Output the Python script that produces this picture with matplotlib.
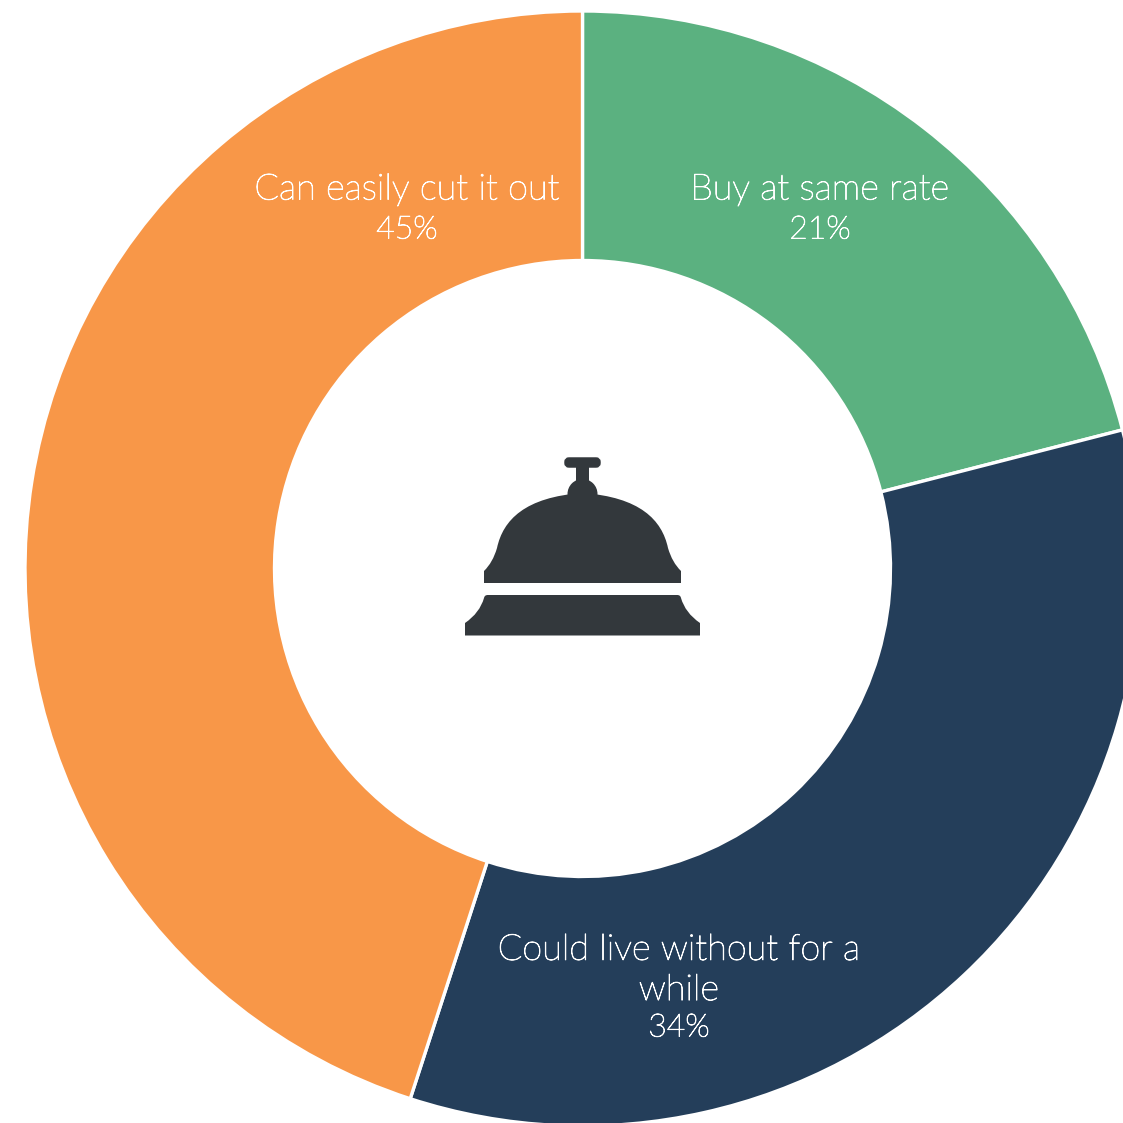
import matplotlib
matplotlib.use('Agg')
import matplotlib.pyplot as plt
import matplotlib.patheffects as pe
from matplotlib.patches import Wedge, PathPatch, Rectangle, Circle, FancyBboxPatch
from matplotlib.path import Path

plt.rcParams['font.family'] = ['Lato', 'DejaVu Sans']

labels = ['Buy at same rate', 'Could live without for a\nwhile', 'Can easily cut it out']
shares = [21, 34, 45]
colors = ['#5BB180', '#243E5A', '#F89748']
label_xy = [(820, 190), (679, 970.5), (407, 190)]
share_xy = [(820, 230), (679, 1028), (407, 230)]

SIZE = 1123
cx, cy = 582.5, 568.5
R_OUT, R_IN = 557.5, 308

fig = plt.figure(figsize=(SIZE / 100, SIZE / 100), dpi=100)
ax = fig.add_axes([0, 0, 1, 1])
ax.set_xlim(0, SIZE)
ax.set_ylim(SIZE, 0)
ax.set_aspect('equal')
ax.axis('off')

# ring runs clockwise from 12 o'clock; the y axis is flipped, so angles grow clockwise
start = -90.0
total = sum(shares)
for share, color in zip(shares, colors):
    sweep = 360.0 * share / total
    ax.add_patch(Wedge((cx, cy), R_OUT, start, start + sweep, width=R_OUT - R_IN,
                       facecolor=color, edgecolor='white', linewidth=2.4))
    start += sweep

# the light face is very thin, so fatten it slightly with a white stroke
stroke = [pe.withStroke(linewidth=0.65, foreground='white')]
for (tx, ty), (px, py), label, share in zip(label_xy, share_xy, labels, shares):
    ax.text(tx, ty, label, color='white', fontsize=26, fontweight='light',
            ha='center', va='center', linespacing=1.28, path_effects=stroke)
    ax.text(px, py, f'{share}%', color='white', fontsize=23, fontweight='light',
            ha='center', va='center', path_effects=stroke)

# service bell in the hole
ink = '#33383C'
M, L, C, Z = Path.MOVETO, Path.LINETO, Path.CURVE4, Path.CLOSEPOLY


def mirror(x):
    return 2 * cx - x


ax.add_patch(FancyBboxPatch((566, 459), 33, 7, boxstyle='round,pad=0,rounding_size=3',
                            facecolor=ink, edgecolor=ink, linewidth=2.5))
ax.add_patch(Rectangle((576, 462), 12.5, 22, facecolor=ink, edgecolor='none'))
ax.add_patch(Circle((582.5, 494), 15, facecolor=ink, edgecolor='none'))

# dome: left half as curves, then the same curves reflected
dome_pts = [(484, 583), (484, 571),
            (490, 565), (494, 558), (497, 548),
            (503, 520), (525, 497), (582.5, 493),
            (640, 497), (662, 520), (668, 548),
            (671, 558), (675, 565), (681, 571),
            (681, 583), (484, 583)]
dome_codes = [M, L, C, C, C, C, C, C, C, C, C, C, C, C, L, Z]
ax.add_patch(PathPatch(Path(dome_pts, dome_codes), facecolor=ink, edgecolor='none'))

base_pts = [(465, 635.5), (465, 623),
            (475, 616), (481, 608), (484, 598),
            (484.5, 596), (485.5, 595), (488, 595),
            (mirror(488), 595),
            (mirror(485.5), 595), (mirror(484.5), 596), (mirror(484), 598),
            (mirror(481), 608), (mirror(475), 616), (mirror(465), 623),
            (mirror(465), 635.5), (465, 635.5)]
base_codes = [M, L, C, C, C, C, C, C, L, C, C, C, C, C, C, L, Z]
ax.add_patch(PathPatch(Path(base_pts, base_codes), facecolor=ink, edgecolor='none'))

fig.savefig('out.png', dpi=100, facecolor='white')
